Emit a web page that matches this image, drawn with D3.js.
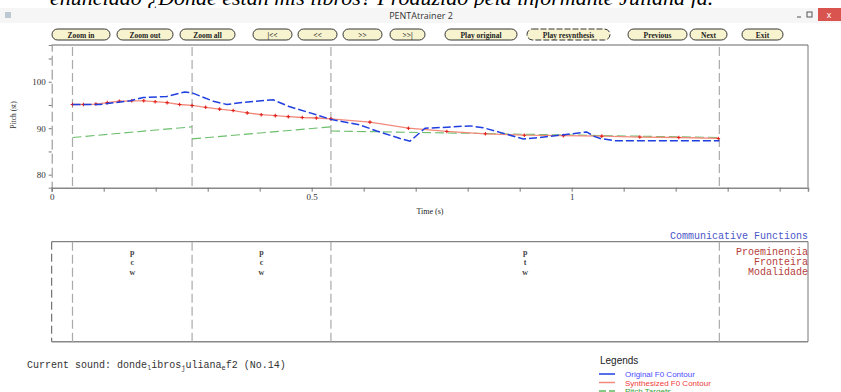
<!DOCTYPE html>
<html>
<head>
<meta charset="utf-8">
<script src="https://cdn.jsdelivr.net/npm/d3@7"></script>
<style>
  body { margin: 0; background: #fff; }
  svg { display: block; }
</style>
</head>
<body>
<svg id="chart" width="841" height="392"></svg>
<script>
// syllable boundaries (s)
const boundaries = [0.04, 0.27, 0.537, 1.284];

// original F0 contour (time s, pitch st)
const originalT = [0.04, 0.093, 0.151, 0.176, 0.221, 0.256, 0.27, 0.311, 0.337, 0.362, 0.426, 0.458, 0.497, 0.537,
  0.593, 0.625, 0.67, 0.689, 0.718, 0.76, 0.804, 0.83, 0.862, 0.907, 0.939, 0.978, 1.029, 1.042, 1.055, 1.084, 1.284];
const originalF0 = [95.1, 95.1, 95.9, 96.6, 96.8, 97.8, 97.6, 95.8, 95.1, 95.5, 96.1, 94.6, 93.3, 91.9,
  90.7, 89.4, 87.8, 87.2, 90.0, 90.2, 90.5, 90.1, 89.1, 87.7, 88.0, 88.5, 89.2, 88.3, 87.8, 87.3, 87.3];

// synthesized F0 contour
const synthT = [0.04, 0.061, 0.085, 0.107, 0.13, 0.154, 0.177, 0.199, 0.222, 0.246, 0.27, 0.296, 0.323, 0.349,
  0.376, 0.403, 0.43, 0.455, 0.482, 0.509, 0.537, 0.612, 0.686, 0.76, 0.834, 0.909, 0.984, 1.058, 1.131, 1.206, 1.282];
const synthF0 = [95.1, 95.1, 95.2, 95.5, 95.8, 95.9, 95.9, 95.7, 95.5, 95.1, 94.9, 94.5, 94.1, 93.8,
  93.3, 92.9, 92.7, 92.5, 92.3, 92.2, 92.0, 91.3, 90.0, 89.3, 88.8, 88.5, 88.4, 88.3, 88.1, 88.0, 87.8];

// pitch targets: start / end value per syllable
const targetStart = [88.0, 87.7, 89.4];
const targetEnd = [90.3, 90.3, 88.0];

// communicative functions per syllable
const funcRows = ['Proeminencia', 'Fronteira', 'Modalidade'];
const funcValues = [['p', 'c', 'w'], ['p', 'c', 'w'], ['p', 't', 'w']];

const buttons = ['Zoom in', 'Zoom out', 'Zoom all', '|<<', '<<', '>>', '>>|', 'Play original', 'Play resynthesis', 'Previous', 'Next', 'Exit'];
const buttonX = [[52, 110], [117, 173], [180, 235], [253, 292], [298, 337], [343, 382], [390, 425], [445, 517], [527, 610], [628, 687], [690, 727], [742, 783]];

const xTicks = d3.range(0, 1.45, 0.1);
const yTicks = [80, 85, 90, 95, 100, 105];

const svg = d3.select('#chart');
const serif = 'Liberation Serif, DejaVu Serif, serif';
const mono = 'Liberation Mono, DejaVu Sans Mono, monospace';

// heading text clipped by the window
svg.append('clipPath').attr('id', 'headclip')
  .append('rect').attr('x', 0).attr('y', 0).attr('width', 841).attr('height', 8);
svg.append('text')
  .attr('clip-path', 'url(#headclip)')
  .attr('x', 50).attr('y', 5)
  .attr('font-family', serif).attr('font-style', 'italic').attr('font-size', 22)
  .text('enunciado ¿Dónde están mis libros? Produzido pela informante Juliana já.');

// window title bar
svg.append('rect').attr('x', 0).attr('y', 8).attr('width', 841).attr('height', 15).attr('fill', '#f6f6f6');
svg.append('rect').attr('x', 5).attr('y', 12).attr('width', 6).attr('height', 6).attr('fill', '#9ab').attr('opacity', 0.6);
svg.append('text').attr('x', 421).attr('y', 19).attr('text-anchor', 'middle')
  .attr('font-family', 'Open Sans, sans-serif').attr('font-size', 9).attr('fill', '#333').text('PENTAtrainer 2');
svg.append('rect').attr('x', 818).attr('y', 8).attr('width', 23).attr('height', 13).attr('fill', '#d9534f');
svg.append('text').attr('x', 829).attr('y', 18).attr('text-anchor', 'middle').attr('fill', '#fff')
  .attr('font-family', 'sans-serif').attr('font-size', 9).text('x');
svg.append('line').attr('x1', 797).attr('x2', 801).attr('y1', 17).attr('y2', 17).attr('stroke', '#555');
svg.append('rect').attr('x', 807).attr('y', 12).attr('width', 5).attr('height', 5).attr('fill', 'none').attr('stroke', '#555');

// button row
const btn = svg.append('g').selectAll('g').data(buttons).join('g');
btn.append('rect')
  .attr('x', (d, i) => buttonX[i][0]).attr('y', 29)
  .attr('width', (d, i) => buttonX[i][1] - buttonX[i][0]).attr('height', 11)
  .attr('rx', 5.5)
  .attr('fill', '#f7f3cf').attr('stroke', '#333').attr('stroke-width', 1)
  .attr('stroke-dasharray', d => d === 'Play resynthesis' ? '6,2' : null);
btn.append('text')
  .attr('x', (d, i) => (buttonX[i][0] + buttonX[i][1]) / 2).attr('y', 37.5)
  .attr('text-anchor', 'middle').attr('font-family', serif).attr('font-weight', 'bold').attr('font-size', 7.5)
  .attr('fill', '#222').text(d => d);

// pitch plot
const plotL = 51.7, plotR = 808, plotT = 45, plotB = 187.7;
const x = d3.scaleLinear().domain([0, 1.4545]).range([plotL, plotR]);
const y = d3.scaleLinear().domain([77.2, 107.9]).range([plotB, plotT]);

const plot = svg.append('g');
plot.append('line').attr('x1', plotL).attr('x2', plotR).attr('y1', plotT).attr('y2', plotT).attr('stroke', '#666');
plot.append('line').attr('x1', plotR).attr('x2', plotR).attr('y1', plotT).attr('y2', plotB).attr('stroke', '#777');

plot.selectAll('line.bound').data(boundaries).join('line')
  .attr('class', 'bound')
  .attr('x1', d => x(d)).attr('x2', d => x(d)).attr('y1', plotT + 2).attr('y2', plotB)
  .attr('stroke', '#aaa').attr('stroke-width', 1.2).attr('stroke-dasharray', '9,4');

const xAxis = d3.axisBottom(x).tickValues(xTicks).tickSize(4).tickPadding(2)
  .tickFormat(d => Math.abs(d - 0.5) < 1e-6 ? '0.5' : Math.abs(d) < 1e-6 ? '0' : Math.abs(d - 1) < 1e-6 ? '1' : '');
const gx = plot.append('g').attr('transform', `translate(0,${plotB})`).call(xAxis);
gx.select('.domain').attr('stroke', '#888').attr('stroke-width', 1.5);
gx.selectAll('.tick line').attr('stroke', '#777');
gx.selectAll('.tick text').attr('font-family', serif).attr('font-size', 9).attr('fill', '#333');

const yAxis = d3.axisLeft(y).tickValues(yTicks).tickSize(3).tickFormat(d => d % 10 === 0 ? d : '');
const gy = plot.append('g').attr('transform', `translate(${plotL},0)`).call(yAxis);
gy.select('.domain').attr('stroke', '#888').attr('stroke-dasharray', '10,4');
gy.selectAll('.tick line').attr('stroke', '#777');
gy.selectAll('.tick text').attr('font-family', serif).attr('font-size', 9).attr('fill', '#333');

plot.append('text').attr('transform', 'translate(16,115) rotate(-90)').attr('text-anchor', 'middle')
  .attr('font-family', serif).attr('font-size', 7.5).attr('fill', '#333').text('Pitch (st)');
plot.append('text').attr('x', 430).attr('y', 214).attr('text-anchor', 'middle')
  .attr('font-family', serif).attr('font-size', 8).attr('fill', '#222').text('Time (s)');

// pitch targets
plot.selectAll('line.target').data(targetStart).join('line')
  .attr('class', 'target')
  .attr('x1', (d, i) => x(boundaries[i])).attr('x2', (d, i) => x(boundaries[i + 1]))
  .attr('y1', d => y(d)).attr('y2', (d, i) => y(targetEnd[i]))
  .attr('stroke', '#5cb85c').attr('stroke-width', 1.1).attr('stroke-dasharray', '9,4').attr('opacity', 0.9);

// synthesized contour
const line = d3.line().x(d => x(d[0])).y(d => y(d[1]));
const synth = synthT.map((t, i) => [t, synthF0[i]]);
plot.append('path').datum(synth).attr('d', line)
  .attr('fill', 'none').attr('stroke', '#f28a7c').attr('stroke-width', 1.3);
plot.selectAll('path.mk').data(synth).join('path')
  .attr('class', 'mk')
  .attr('d', d => `M${x(d[0]) - 1.8},${y(d[1])}h3.6M${x(d[0])},${y(d[1]) - 1.8}v3.6`)
  .attr('stroke', '#e0201a').attr('stroke-width', 1.1);

// original contour
const orig = originalT.map((t, i) => [t, originalF0[i]]);
plot.append('path').datum(orig).attr('d', line)
  .attr('fill', 'none').attr('stroke', '#1f3fe0').attr('stroke-width', 1.5).attr('stroke-dasharray', '8,3');

// communicative functions panel
const pTop = 241.7, pBot = 341.7;
const panel = svg.append('g');
panel.append('line').attr('x1', plotL).attr('x2', plotR).attr('y1', pTop).attr('y2', pTop).attr('stroke', '#666');
panel.append('line').attr('x1', plotL).attr('x2', plotR).attr('y1', pBot).attr('y2', pBot).attr('stroke', '#888').attr('stroke-width', 1.5);
panel.append('line').attr('x1', plotR).attr('x2', plotR).attr('y1', pTop).attr('y2', pBot).attr('stroke', '#777');
panel.append('line').attr('x1', plotL).attr('x2', plotL).attr('y1', pTop).attr('y2', pBot)
  .attr('stroke', '#555').attr('stroke-dasharray', '8,4');
panel.selectAll('line.bound').data(boundaries).join('line')
  .attr('class', 'bound')
  .attr('x1', d => x(d)).attr('x2', d => x(d)).attr('y1', pTop).attr('y2', pBot)
  .attr('stroke', '#aaa').attr('stroke-width', 1.2).attr('stroke-dasharray', '9,4');

const rowY = [254.5, 264.5, 274.5];
funcValues.forEach((vals, i) => {
  const cx = x((boundaries[i] + boundaries[i + 1]) / 2);
  panel.selectAll(null).data(vals).join('text')
    .attr('x', cx).attr('y', (d, j) => rowY[j]).attr('text-anchor', 'middle')
    .attr('font-family', serif).attr('font-weight', 'bold').attr('font-size', 8).attr('fill', '#444')
    .text(d => d);
});
panel.selectAll('text.row').data(funcRows).join('text')
  .attr('class', 'row').attr('x', plotR).attr('y', (d, j) => rowY[j]).attr('text-anchor', 'end')
  .attr('font-family', mono).attr('font-size', 10).attr('fill', '#b5403a').text(d => d);
panel.append('text').attr('x', plotR).attr('y', 238.5).attr('text-anchor', 'end')
  .attr('font-family', mono).attr('font-size', 10).attr('fill', '#4a55c8').text('Communicative Functions');

// current sound
const cs = svg.append('text').attr('x', 27).attr('y', 368)
  .attr('font-family', mono).attr('font-size', 10).attr('fill', '#333');
[['Current sound: donde', false], ['l', true], ['ibros', false], ['j', true], ['uliana', false], ['e', true], ['f2 (No.14)', false]]
  .forEach(([s, sub]) => {
    const t = cs.append('tspan').text(s);
    if (sub) t.attr('font-size', 7).attr('dy', 2);
    else if (s !== 'Current sound: donde') t.attr('dy', -2);
  });

// legend
const legendNames = ['Original F0 Contour', 'Synthesized F0 Contour', 'Pitch Targets'];
const legendColors = ['#1f3fe0', '#f28a7c', '#5cb85c'];
const legendText = ['#4a4aff', '#f03a3a', '#3aa03a'];
svg.append('text').attr('x', 600).attr('y', 364).attr('font-family', 'Liberation Sans, Arial, sans-serif')
  .attr('font-size', 10).attr('fill', '#222').text('Legends');
const lg = svg.append('g').selectAll('g').data(legendNames).join('g')
  .attr('transform', (d, i) => `translate(599,${374 + i * 8.5})`);
lg.append('line').attr('x1', 0).attr('x2', 16).attr('y1', 0).attr('y2', 0)
  .attr('stroke', (d, i) => legendColors[i]).attr('stroke-width', 1.5)
  .attr('stroke-dasharray', (d, i) => i === 2 ? '7,3' : null);
lg.append('text').attr('x', 26).attr('y', 3).attr('font-family', 'Liberation Sans, Arial, sans-serif')
  .attr('font-size', 8).attr('fill', (d, i) => legendText[i]).text(d => d);
</script>
</body>
</html>
